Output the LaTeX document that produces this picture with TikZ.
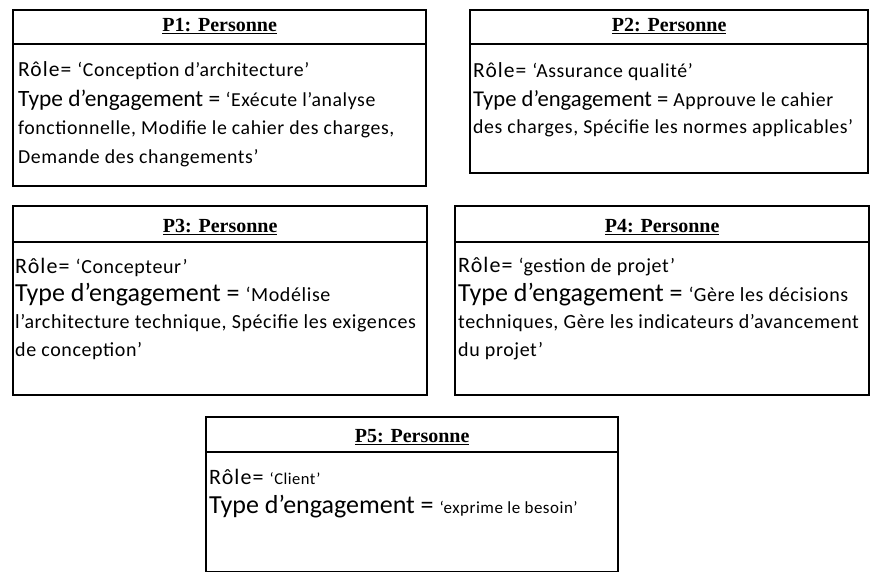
\documentclass[tikz,border=0pt]{standalone}
\usepackage{fontspec}
\setmainfont{Carlito}
\newfontfamily\headfont{Liberation Serif}
\newfontfamily\rolefont[LetterSpace=5]{Carlito}
\newfontfamily\valfont[LetterSpace=3]{Carlito}
\usetikzlibrary{positioning}
\newcommand{\fsz}[1]{\fontsize{#1}{#1}\selectfont}

\begin{document}
\begin{tikzpicture}[x=1pt, y=-1pt,
  persbox/.style={draw, line width=2.4pt, rectangle, inner sep=0pt, anchor=north west},
  headtxt/.style={font=\headfont\bfseries\fsz{20}},
  attr/.style={anchor=west, inner sep=0pt},
  sepline/.style={line width=2.2pt}
]
\useasboundingbox (0,0) rectangle (872,572);

% P1
\node[persbox, minimum width=413pt, minimum height=176pt] (p1) at (12,9) {};
\draw[sepline] (p1.west |- 0,44) -- (p1.east |- 0,44);
\node[headtxt] (p1h) at (p1.north |- 0,26.5) {\underline{P1: Personne}};
\node[attr] (p1r) at (18,71) {\rolefont\fsz{21.5}Rôle= \valfont\fsz{19.8}‘Conception d’architecture’};
\node[attr] (p1t) at (18,100) {\fsz{23.4}Type d’engagement = \valfont\fsz{19.8}‘Exécute l’analyse};
\node[attr] (p1a) at (18,129) {\valfont\fsz{19.8}fonctionnelle, Modifie le cahier des charges,};
\node[attr] (p1b) at (18,158) {\valfont\fsz{19.8}Demande des changements’};

% P2
\node[persbox, minimum width=398pt, minimum height=163pt] (p2) at (469,9) {};
\draw[sepline] (p2.west |- 0,44) -- (p2.east |- 0,44);
\node[headtxt] (p2h) at (p2.north |- 0,26.5) {\underline{P2: Personne}};
\node[attr] (p2r) at (473,72) {\rolefont\fsz{21.5}Rôle= \valfont\fsz{19.8}‘Assurance qualité’};
\node[attr] (p2t) at (473,100) {\fsz{22.6}Type d’engagement = \valfont\fsz{19.8}Approuve le cahier};
\node[attr] (p2a) at (473,128) {\valfont\fsz{19.8}des charges, Spécifie les normes applicables’};

% P3
\node[persbox, minimum width=414pt, minimum height=189pt] (p3) at (12,205) {};
\draw[sepline] (p3.west |- 0,242) -- (p3.east |- 0,242);
\node[headtxt] (p3h) at (p3.north |- 0,227) {\underline{P3: Personne}};
\node[attr] (p3r) at (15,267) {\rolefont\fsz{22}Rôle= \valfont\fsz{20}‘Concepteur’};
\node[attr] (p3t) at (15,295) {\fsz{26}Type d’engagement = \valfont\fsz{20}‘Modélise};
\node[attr] (p3a) at (15,323) {\valfont\fsz{20}l’architecture technique, Spécifie les exigences};
\node[attr] (p3b) at (15,351) {\valfont\fsz{20}de conception’};

% P4
\node[persbox, minimum width=414pt, minimum height=189pt] (p4) at (454,205) {};
\draw[sepline] (p4.west |- 0,242) -- (p4.east |- 0,242);
\node[headtxt] (p4h) at (p4.north |- 0,227) {\underline{P4: Personne}};
\node[attr] (p4r) at (458,267) {\rolefont\fsz{22}Rôle= \valfont\fsz{20}‘gestion de projet’};
\node[attr] (p4t) at (458,295) {\fsz{26}Type d’engagement = \valfont\fsz{20}‘Gère les décisions};
\node[attr] (p4a) at (458,323) {\valfont\fsz{20}techniques, Gère les indicateurs d’avancement};
\node[attr] (p4b) at (458,351) {\valfont\fsz{20}du projet’};

% P5
\node[persbox, minimum width=412pt, minimum height=155pt] (p5) at (205,416) {};
\draw[sepline] (p5.west |- 0,452) -- (p5.east |- 0,452);
\node[headtxt] (p5h) at (p5.north |- 0,437) {\underline{P5: Personne}};
\node[attr] (p5r) at (209,477) {\rolefont\fsz{22}Rôle= \valfont\fsz{16.5}‘Client’};
\node[attr] (p5t) at (209,507) {\fsz{26}Type d’engagement = \valfont\fsz{17}‘exprime le besoin’};
\end{tikzpicture}
\end{document}
